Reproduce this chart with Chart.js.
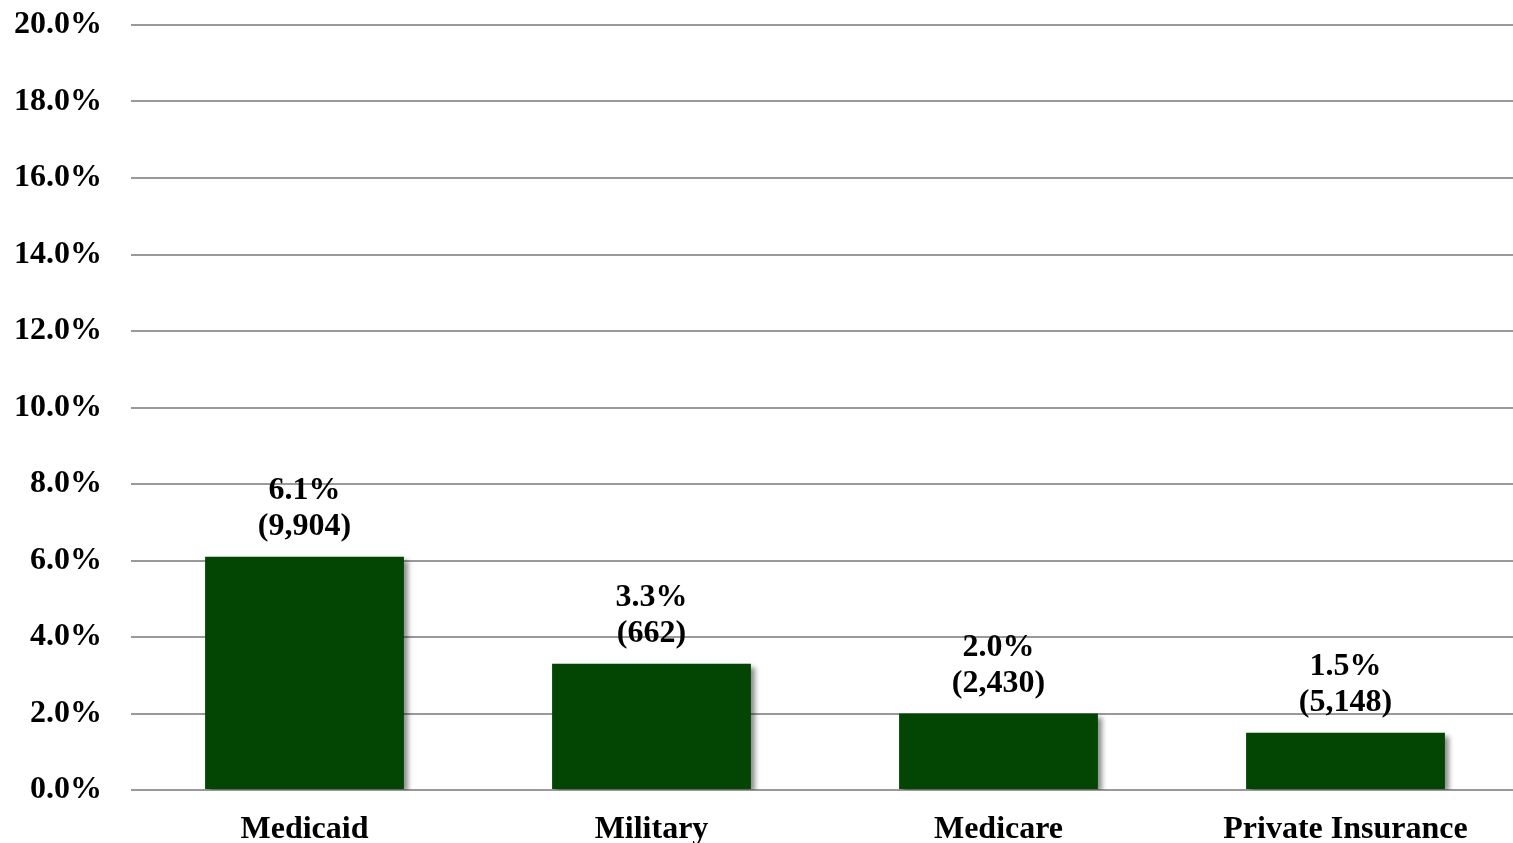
<!DOCTYPE html>
<html>
<head>
<meta charset="utf-8">
<script src="https://cdn.jsdelivr.net/npm/chart.js@4"></script>
<style>
  html, body { margin: 0; padding: 0; background: #fff; overflow: hidden; }
  #wrap { width: 1519px; height: 843px; }
</style>
</head>
<body>
<div id="wrap"><canvas id="chart"></canvas></div>
<script>
const categories = ["Medicaid", "Military", "Medicare", "Private Insurance"];
const rates = [6.1, 3.3, 2.0, 1.5];
const counts = ["9,904", "662", "2,430", "5,148"];
const yTicks = [0, 2, 4, 6, 8, 10, 12, 14, 16, 18, 20];

const FONT = "'Liberation Serif', 'Times New Roman', serif";

// soft shadow behind bars
const barShadow = {
    id: "barShadow",
    beforeDatasetsDraw(chart) {
        const ctx = chart.ctx;
        ctx.save();
        ctx.shadowColor = "rgba(0,0,0,0.45)";
        ctx.shadowBlur = 5;
        ctx.shadowOffsetX = 4;
        ctx.shadowOffsetY = 3;
    },
    afterDatasetsDraw(chart) {
        chart.ctx.restore();
    }
};

// two-line labels above each bar
const barLabels = {
    id: "barLabels",
    afterDraw(chart) {
        const ctx = chart.ctx;
        const meta = chart.getDatasetMeta(0);
        ctx.save();
        ctx.font = "bold 32px " + FONT;
        ctx.fillStyle = "#000";
        ctx.textAlign = "center";
        ctx.textBaseline = "middle";
        meta.data.forEach((bar, i) => {
            ctx.fillText(rates[i].toFixed(1) + "%", bar.x, bar.y - 66);
            ctx.fillText("(" + counts[i] + ")", bar.x, bar.y - 30);
        });
        ctx.restore();
    }
};

new Chart(document.getElementById("chart"), {
    type: "bar",
    data: {
        labels: categories,
        datasets: [{
            data: rates,
            backgroundColor: "#034503",
            borderWidth: 0,
            barPercentage: 0.573,
            categoryPercentage: 1
        }]
    },
    options: {
        responsive: true,
        maintainAspectRatio: false,
        animation: false,
        layout: { padding: { top: 25, right: 0, left: 0, bottom: 0 } },
        plugins: {
            legend: { display: false },
            tooltip: { enabled: false }
        },
        scales: {
            x: {
                grid: { display: false, drawTicks: false },
                border: { display: false },
                ticks: {
                    color: "#000",
                    padding: 21,
                    font: { family: FONT, size: 32, weight: "bold" }
                },
                afterFit(scale) {
                    scale.height = 53;
                    scale.paddingLeft = 0;
                    scale.paddingRight = 0;
                }
            },
            y: {
                min: 0,
                max: 20,
                afterBuildTicks(scale) {
                    scale.ticks = yTicks.map(v => ({ value: v }));
                },
                grid: { color: "#999", lineWidth: 2, drawTicks: false },
                border: { display: false },
                ticks: {
                    color: "#000",
                    padding: 29,
                    font: { family: FONT, size: 32, weight: "bold" },
                    callback: v => v.toFixed(1) + "%"
                },
                afterFit(scale) {
                    scale.width = 131;
                    scale.paddingTop = 0;
                    scale.paddingBottom = 0;
                }
            }
        }
    },
    plugins: [barShadow, barLabels]
});
</script>
</body>
</html>
